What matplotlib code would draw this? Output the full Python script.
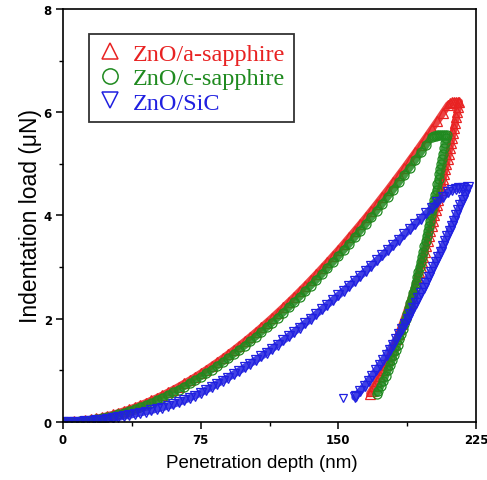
import matplotlib
matplotlib.use("Agg")
import matplotlib.pyplot as plt
from matplotlib.lines import Line2D

# ---------------- data ----------------
# loading branch, depth grid in nm
load_depth_red = list(range(0, 211, 3))
load_red = [0, 0.003, 0.010, 0.020, 0.034, 0.051, 0.070, 0.093, 0.119, 0.147,
            0.178, 0.212, 0.248, 0.287, 0.329, 0.372, 0.419, 0.468, 0.519, 0.573,
            0.629, 0.687, 0.748, 0.811, 0.876, 0.944, 1.013, 1.086, 1.160, 1.236,
            1.315, 1.396, 1.479, 1.564, 1.651, 1.741, 1.832, 1.926, 2.022, 2.120,
            2.220, 2.322, 2.426, 2.532, 2.640, 2.750, 2.863, 2.977, 3.093, 3.211,
            3.331, 3.453, 3.579, 3.705, 3.833, 3.962, 4.095, 4.229, 4.365, 4.502,
            4.643, 4.784, 4.928, 5.073, 5.221, 5.370, 5.522, 5.675, 5.830, 5.987,
            6.146]
hold_depth_red = [211, 212, 213, 214, 215]
hold_red = [6.17, 6.19, 6.20, 6.20, 6.20]
unload_red = [6.2, 6.1, 6.0, 5.9, 5.8, 5.7, 5.6, 5.5, 5.4, 5.3, 5.2, 5.1, 5.0,
              4.9, 4.8, 4.7, 4.6, 4.5, 4.4, 4.3, 4.2, 4.1, 4.0, 3.9, 3.8, 3.7,
              3.6, 3.5, 3.4, 3.3, 3.2, 3.1, 3.0, 2.9, 2.8, 2.7, 2.6, 2.5, 2.4,
              2.3, 2.2, 2.1, 2.0, 1.9, 1.8, 1.7, 1.6, 1.5, 1.4, 1.3, 1.2, 1.1,
              1.0, 0.9, 0.8, 0.7, 0.6, 0.55]
unload_depth_red = [216.0, 215.4, 214.9, 214.3, 213.7, 213.1, 212.5, 211.9, 211.35,
                    210.7, 210.1, 209.5, 208.9, 208.3, 207.6, 207.0, 206.3, 205.7,
                    205.0, 204.3, 203.7, 203.0, 202.3, 201.6, 200.9, 200.1, 199.4,
                    198.7, 197.9, 197.2, 196.4, 195.6, 194.8, 194.0, 193.1, 192.3,
                    191.4, 190.6, 189.7, 188.8, 187.8, 186.9, 185.9, 184.9, 183.85,
                    182.8, 181.7, 180.6, 179.4, 178.2, 177.0, 175.7, 174.3, 172.85,
                    171.3, 169.7, 168.0, 167.1]

load_depth_green = list(range(0, 202, 3))
load_green = [0, 0, 0.003, 0.010, 0.020, 0.034, 0.051, 0.070, 0.093, 0.119, 0.147,
              0.178, 0.212, 0.248, 0.287, 0.329, 0.372, 0.419, 0.468, 0.519, 0.573,
              0.629, 0.687, 0.748, 0.811, 0.876, 0.944, 1.013, 1.086, 1.160, 1.236,
              1.315, 1.396, 1.479, 1.564, 1.651, 1.741, 1.832, 1.926, 2.022, 2.120,
              2.220, 2.322, 2.426, 2.532, 2.640, 2.750, 2.863, 2.977, 3.093, 3.211,
              3.331, 3.453, 3.579, 3.705, 3.833, 3.962, 4.095, 4.229, 4.365, 4.502,
              4.643, 4.784, 4.928, 5.073, 5.221, 5.370, 5.522]
hold_depth_green = [202, 203, 204, 205, 206, 207, 208]
hold_green = [5.53, 5.54, 5.55, 5.55, 5.55, 5.55, 5.55]
unload_green = [5.55, 5.5, 5.4, 5.3, 5.2, 5.1, 5.0, 4.9, 4.8, 4.7, 4.6, 4.5, 4.4,
                4.3, 4.2, 4.1, 4.0, 3.9, 3.8, 3.7, 3.6, 3.5, 3.4, 3.3, 3.2, 3.1,
                3.0, 2.9, 2.8, 2.7, 2.6, 2.5, 2.4, 2.3, 2.2, 2.1, 2.0, 1.9, 1.8,
                1.7, 1.6, 1.5, 1.4, 1.3, 1.2, 1.1, 1.0, 0.9, 0.8, 0.7, 0.6, 0.55]
unload_depth_green = [209.0, 208.75, 208.25, 207.75, 207.2, 206.7, 206.2, 205.65,
                      205.1, 204.6, 204.0, 203.5, 202.9, 202.35, 201.8, 201.2,
                      200.6, 200.0, 199.4, 198.8, 198.2, 197.6, 196.9, 196.3,
                      195.6, 195.0, 194.3, 193.6, 192.9, 192.2, 191.5, 190.75,
                      190.0, 189.2, 188.4, 187.6, 186.8, 186.0, 185.1, 184.2,
                      183.3, 182.3, 181.4, 180.35, 179.3, 178.2, 177.1, 175.8,
                      174.6, 173.2, 171.75, 171.0]

load_depth_blue = list(range(0, 211, 3))
load_blue = [0, 0.002, 0.005, 0.009, 0.015, 0.022, 0.032, 0.044, 0.058, 0.074,
             0.09, 0.11, 0.13, 0.153, 0.176, 0.20, 0.224, 0.25, 0.278, 0.308,
             0.34, 0.38, 0.42, 0.465, 0.51, 0.565, 0.62, 0.68, 0.74, 0.80,
             0.86, 0.925, 0.99, 1.06, 1.13, 1.20, 1.27, 1.345, 1.42, 1.50,
             1.58, 1.66, 1.745, 1.83, 1.915, 2.00, 2.09, 2.18, 2.27, 2.36,
             2.45, 2.545, 2.64, 2.735, 2.83, 2.93, 3.03, 3.13, 3.23, 3.33,
             3.43, 3.53, 3.635, 3.735, 3.84, 3.94, 4.04, 4.15, 4.255, 4.36,
             4.46]
hold_depth_blue = [212, 214, 216, 218]
hold_blue = [4.50, 4.52, 4.53, 4.54]
unload_blue = [4.55, 4.5, 4.4, 4.3, 4.2, 4.1, 4.0, 3.9, 3.8, 3.7, 3.6, 3.5, 3.4,
               3.3, 3.2, 3.1, 3.0, 2.9, 2.8, 2.7, 2.6, 2.5, 2.4, 2.3, 2.2, 2.1,
               2.0, 1.9, 1.8, 1.7, 1.6, 1.5, 1.4, 1.3, 1.2, 1.1, 1.0, 0.9, 0.8,
               0.7, 0.6, 0.5, 0.48]
unload_depth_blue = [220.5, 219.9, 218.8, 217.7, 216.5, 215.4, 214.2, 213.0, 211.8,
                     210.6, 209.4, 208.2, 206.9, 205.7, 204.4, 203.1, 201.8, 200.5,
                     199.2, 197.8, 196.45, 195.05, 193.6, 192.2, 190.75, 189.25,
                     187.75, 186.2, 184.65, 183.05, 181.4, 179.7, 178.0, 176.25,
                     174.4, 172.55, 170.6, 168.6, 166.5, 164.3, 162.0, 159.5, 159.0]
tail_depth_blue = [152.5]
tail_blue = [0.46]

labels = ["ZnO/a-sapphire", "ZnO/c-sapphire", "ZnO/SiC"]
x_ticks = [0, 75, 150, 225]
y_ticks = [0, 2, 4, 6, 8]

# ---------------- styling ----------------
colors = ["#e82222", "#1f8a1f", "#2020e0"]
markers = ["^", "o", "v"]

fig = plt.figure(figsize=(4.87, 4.81), dpi=100)
ax = fig.add_axes([0.1294, 0.1206, 0.8480, 0.8587])

series = [
    (load_depth_red, load_red, hold_depth_red, hold_red, unload_depth_red, unload_red),
    (load_depth_green, load_green, hold_depth_green, hold_green, unload_depth_green, unload_green),
    (load_depth_blue, load_blue, hold_depth_blue, hold_blue, unload_depth_blue, unload_blue),
]
for (ld, lv, hd, hv, ud, uv), c, m in zip(series, colors, markers):
    xs = list(ld) + list(hd) + list(ud)
    ys = list(lv) + list(hv) + list(uv)
    # dense band formed by the overlapping open markers in the original
    ax.plot(xs, ys, linestyle="-", linewidth=5.2, color=c, alpha=0.85,
            solid_joinstyle="round", solid_capstyle="round")
    ax.plot(xs, ys, linestyle="none", marker=m, markersize=6.5,
            markerfacecolor="none", markeredgecolor=c, markeredgewidth=0.9)
ax.plot(tail_depth_blue, tail_blue, linestyle="none", marker="v", markersize=6.0,
        markerfacecolor="none", markeredgecolor=colors[2], markeredgewidth=0.9)

ax.set_xlim(0, 225)
ax.set_ylim(0, 8)
ax.set_xticks(x_ticks)
ax.set_yticks(y_ticks)
ax.set_xticks([37.5, 112.5, 187.5], minor=True)
ax.set_yticks([1, 3, 5, 7], minor=True)
ax.tick_params(which="major", direction="out", length=5, width=1.1, labelsize=8.5, pad=3)
ax.tick_params(which="minor", direction="out", length=3, width=1.0)
for lab in ax.get_xticklabels() + ax.get_yticklabels():
    lab.set_fontweight("bold")
for s in ax.spines.values():
    s.set_linewidth(1.2)

ax.set_xlabel("Penetration depth (nm)", fontsize=13.5, family="Liberation Sans")
ax.xaxis.set_label_coords(0.482, -0.078)
ax.set_ylabel("Indentation load (\u03bcN)", fontsize=16.5, family="Liberation Sans", labelpad=1)

handles = [Line2D([], [], linestyle="none", marker=m, markersize=11,
                  markerfacecolor="none", markeredgecolor=c, markeredgewidth=1.1)
           for m, c in zip(markers, colors)]
leg = ax.legend(handles, labels, loc="upper left", bbox_to_anchor=(0.063, 0.939),
                borderaxespad=0, prop={"family": "Liberation Serif", "size": 17.5},
                labelcolor=colors, frameon=True, fancybox=False, handlelength=1.0,
                handletextpad=0.45, labelspacing=0.1, borderpad=0.35)
leg.get_frame().set_edgecolor("black")
leg.get_frame().set_linewidth(1.3)

fig.savefig("out.png", dpi=100)
